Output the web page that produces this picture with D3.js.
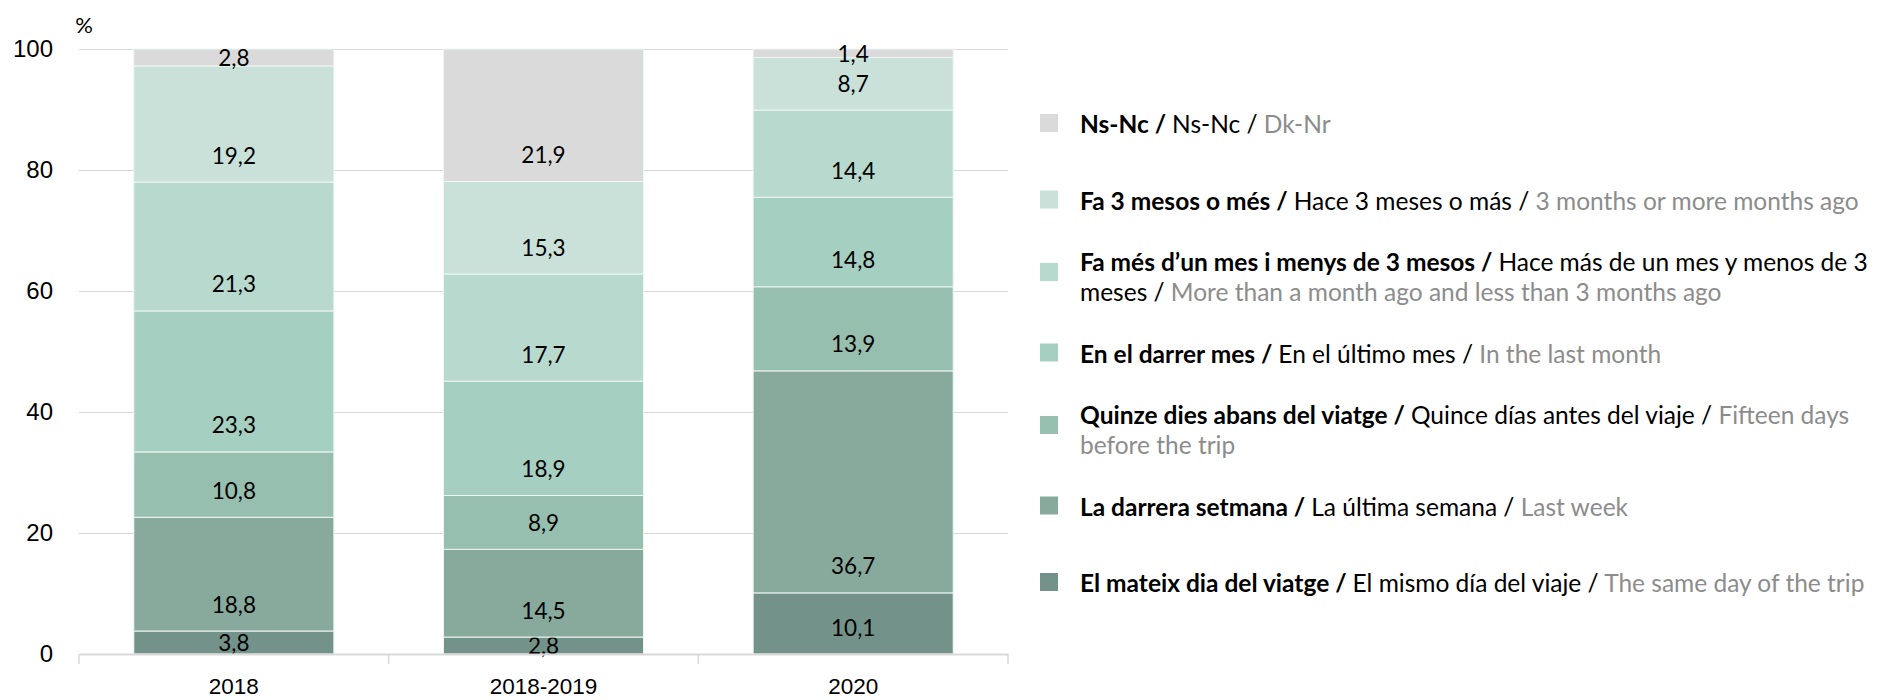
<!DOCTYPE html>
<html>
<head>
<meta charset="utf-8">
<script src="https://cdn.jsdelivr.net/npm/d3@7"></script>
<style>
  body { margin: 0; background: #fff; }
  svg { display: block; font-family: "Lato", "Open Sans", sans-serif; }
</style>
</head>
<body>
<div id="chart"></div>
<script>
// Data (bottom to top of each bar)
const categories = ["2018", "2018-2019", "2020"];
const sameDay = [3.8, 2.8, 10.1];
const lastWeek = [18.8, 14.5, 36.7];
const fifteenDays = [10.8, 8.9, 13.9];
const lastMonth = [23.3, 18.9, 14.8];
const oneToThreeMonths = [21.3, 17.7, 14.4];
const threeMonthsPlus = [19.2, 15.3, 8.7];
const nsNc = [2.8, 21.9, 1.4];
const yTicks = [0, 20, 40, 60, 80, 100];

const seriesKeys = ["sameDay", "lastWeek", "fifteenDays", "lastMonth", "oneToThreeMonths", "threeMonthsPlus", "nsNc"];
const seriesValues = { sameDay, lastWeek, fifteenDays, lastMonth, oneToThreeMonths, threeMonthsPlus, nsNc };
const seriesColors = ["#73938a", "#87aa9d", "#97bfb0", "#a5cfc1", "#b8d9ce", "#c9e1d9", "#dadada"];

// Legend texts: Catalan (bold) / Spanish / English (grey); "\n" marks the line break
const legendCa = ["El mateix dia del viatge", "La darrera setmana", "Quinze dies abans del viatge", "En el darrer mes", "Fa més d’un mes i menys de 3 mesos", "Fa 3 mesos o més", "Ns-Nc"];
const legendEs = ["El mismo día del viaje", "La última semana", "Quince días antes del viaje", "En el último mes", "Hace más de un mes y menos de 3\nmeses", "Hace 3 meses o más", "Ns-Nc"];
const legendEn = ["The same day of the trip", "Last week", "Fifteen days\nbefore the trip", "In the last month", "More than a month ago and less than 3 months ago", "3 months or more months ago", "Dk-Nr"];

const width = 1886, height = 700;
const plot = { left: 79, right: 1008, top: 49, bottom: 654 };

const svg = d3.select("#chart").append("svg")
  .attr("width", width)
  .attr("height", height);

const rows = categories.map((c, i) => {
  const r = { category: c };
  seriesKeys.forEach(k => { r[k] = seriesValues[k][i]; });
  return r;
});
const stacked = d3.stack().keys(seriesKeys)(rows);

const x = d3.scaleBand()
  .domain(categories)
  .range([plot.left, plot.right])
  .paddingInner(0.354)
  .paddingOuter(0.177);

const y = d3.scaleLinear()
  .domain([0, 100])
  .range([plot.bottom, plot.top]);

const color = d3.scaleOrdinal().domain(seriesKeys).range(seriesColors);

// Grid + y labels
const yAxis = svg.append("g")
  .attr("transform", `translate(${plot.left},0)`)
  .call(d3.axisLeft(y).tickValues(yTicks).tickSize(-(plot.right - plot.left)).tickPadding(26).tickFormat(d3.format("d")));
yAxis.select(".domain").remove();
yAxis.selectAll(".tick line").attr("stroke", "#d9d9d9");
yAxis.selectAll(".tick text").attr("fill", "#000").style("font-size", "24px");

svg.append("text")
  .attr("x", 84).attr("y", 24)
  .attr("text-anchor", "middle").attr("dominant-baseline", "central")
  .style("font-size", "22px")
  .text("%");

// Bars
const layers = svg.selectAll(".layer")
  .data(stacked)
  .join("g")
  .attr("class", "layer")
  .attr("fill", d => color(d.key));

layers.selectAll("rect")
  .data(d => d)
  .join("rect")
  .attr("x", d => x(d.data.category))
  .attr("width", x.bandwidth())
  .attr("y", d => y(d[1]))
  .attr("height", d => y(d[0]) - y(d[1]))
  .attr("stroke", "#eef5f2")
  .attr("stroke-width", 1);

// Value labels
const fmt = v => String(v).replace(".", ",");
layers.selectAll("text")
  .data(d => d.map(p => ({ p, key: d.key })))
  .join("text")
  .attr("x", d => x(d.p.data.category) + x.bandwidth() / 2)
  .attr("y", d => {
    const base = y(d.p[0]), top = y(d.p[1]);
    return (base - top) >= 40 ? base - 27 : (base + top) / 2;
  })
  .attr("text-anchor", "middle")
  .attr("dominant-baseline", "central")
  .attr("fill", "#000")
  .style("font-size", "22.5px")
  .text(d => fmt(d.p.data[d.key]));

// X axis
const xAxis = svg.append("g")
  .attr("transform", `translate(0,${plot.bottom})`)
  .call(d3.axisBottom(x).tickSize(0).tickPadding(24));
xAxis.select(".domain").attr("stroke", "#d9d9d9").attr("stroke-width", 2);
xAxis.selectAll(".tick text").attr("fill", "#000").style("font-size", "22.5px");

// category boundary ticks
const bounds = d3.range(categories.length + 1).map(i => plot.left + i * x.step());
svg.append("g")
  .selectAll("line")
  .data(bounds)
  .join("line")
  .attr("x1", d => d).attr("x2", d => d)
  .attr("y1", plot.bottom).attr("y2", plot.bottom + 10)
  .attr("stroke", "#d9d9d9")
  .attr("stroke-width", 1.5);

// Legend (reverse order: top of bar first)
const legendOrder = seriesKeys.map((k, i) => i).reverse();
const ly = d3.scalePoint().domain(legendOrder).range([123, 582]);
const lineGap = 30;

const legend = svg.append("g");
legendOrder.forEach(i => {
  const cy = ly(i);
  const parts = [
    { text: legendCa[i] + " / ", weight: "bold", fill: "#000" },
    { text: legendEs[i] + " / ", weight: "normal", fill: "#000" },
    { text: legendEn[i], weight: "normal", fill: "#8c8c8c" }
  ];
  const nLines = 1 + parts.filter(p => p.text.includes("\n")).length;
  const y0 = cy - (nLines - 1) * lineGap / 2;

  legend.append("rect")
    .attr("x", 1040)
    .attr("y", cy - 9 - (nLines > 1 ? 4 : 0))
    .attr("width", 18).attr("height", 18)
    .attr("fill", seriesColors[i]);

  const t = legend.append("text")
    .attr("x", 1080)
    .attr("y", y0)
    .attr("dominant-baseline", "central")
    .style("font-size", "24.5px");

  let line = 0;
  parts.forEach(p => {
    p.text.split("\n").forEach((chunk, j) => {
      const ts = t.append("tspan")
        .attr("font-weight", p.weight)
        .attr("fill", p.fill)
        .text(chunk);
      if (j > 0) {
        line++;
        ts.attr("x", 1080).attr("y", y0 + line * lineGap);
      }
    });
  });
});
</script>
</body>
</html>
